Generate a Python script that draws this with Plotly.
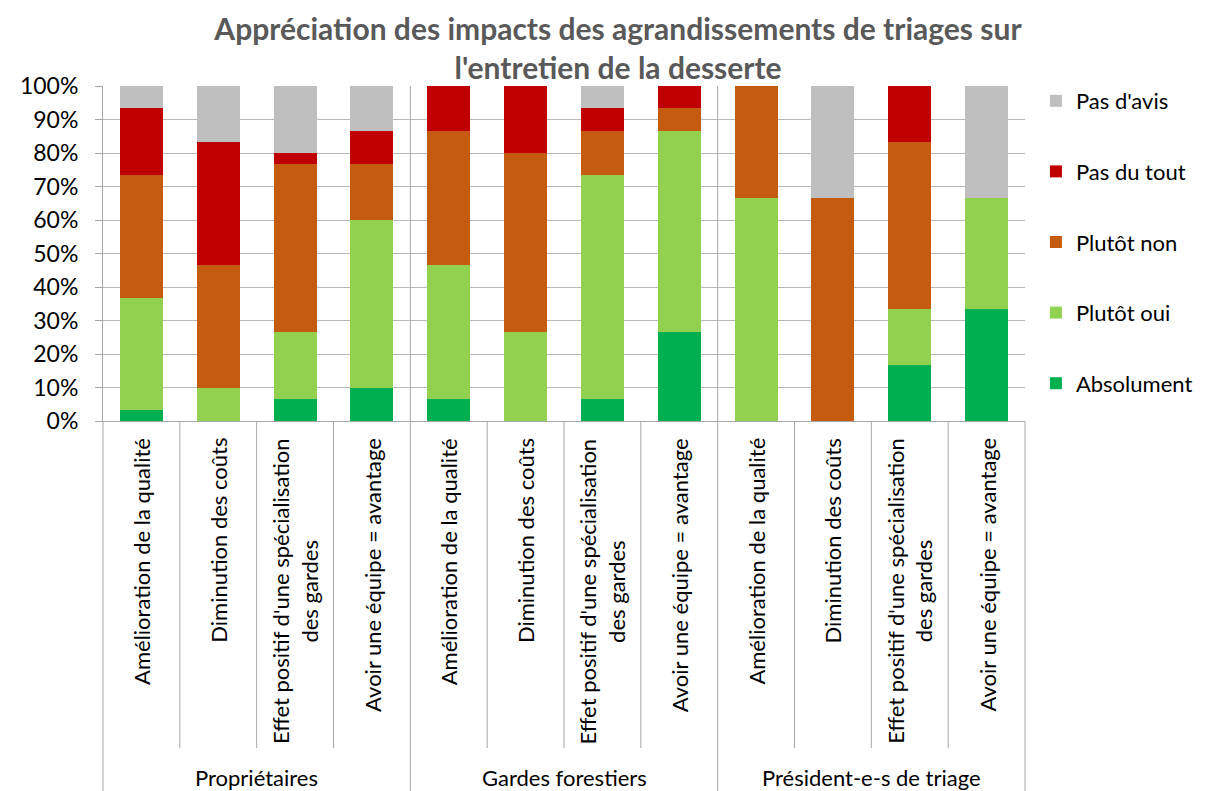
import plotly.graph_objects as go

# ---------------- data ----------------
groups = ["Propriétaires", "Gardes forestiers", "Président-e-s de triage"]
items = [
    "Amélioration de la qualité",
    "Diminution des coûts",
    "Effet positif d'une spécialisation<br>des gardes",
    "Avoir une équipe = avantage",
]
series_names = ["Absolument", "Plutôt oui", "Plutôt non", "Pas du tout", "Pas d'avis"]

# values in % (12 bars: 4 items x 3 groups)
absolument = [3.33, 0.0, 6.67, 10.0, 6.67, 0.0, 6.67, 26.67, 0.0, 0.0, 16.67, 33.33]
plutot_oui = [33.33, 10.0, 20.0, 50.0, 40.0, 26.67, 66.67, 60.0, 66.67, 0.0, 16.67, 33.33]
plutot_non = [36.67, 36.67, 50.0, 16.67, 40.0, 53.33, 13.33, 6.67, 33.33, 66.67, 50.0, 0.0]
pas_du_tout = [20.0, 36.67, 3.33, 10.0, 13.33, 20.0, 6.67, 6.67, 0.0, 0.0, 16.67, 0.0]
pas_d_avis = [6.67, 16.67, 20.0, 13.33, 0.0, 0.0, 6.67, 0.0, 0.0, 33.33, 0.0, 33.33]

colors = ["#00b050", "#92d050", "#c55a11", "#c00000", "#bfbfbf"]
values = [absolument, plutot_oui, plutot_non, pas_du_tout, pas_d_avis]

FONT = "Lato"
OFF = 8                      # page body margin
W, H = 1210 - OFF, 791 - OFF
PL, PR, PT, PB = 97, 1025, 86, 421   # plot area in window pixels
M_L, M_R, M_T, M_B = PL - OFF, (W + OFF) - PR, PT - OFF, (H + OFF) - PB
PH = PB - PT
PW = PR - PL

n_items = len(items)
n_bars = len(groups) * n_items
xpos = list(range(n_bars))

fig = go.Figure()
for i, (name, vals, col) in enumerate(zip(series_names, values, colors)):
    fig.add_trace(go.Bar(
        x=xpos, y=vals, name=name, legendgroup=name,
        legendrank=len(series_names) - i,
        marker=dict(color=col, line=dict(width=0)),
        hovertemplate="%{y:.1f}%<extra>" + name + "</extra>",
    ))

def py(pix):
    """window pixel row -> paper y"""
    return 1 - (pix - PT) / PH

shapes = []
line_col = "#a6a6a6"
for k in range(n_bars + 1):
    xp = k / n_bars
    if k % n_items == 0:
        y0 = 1 if 0 < k < n_bars else 0
        shapes.append(dict(type="line", xref="paper", yref="paper", x0=xp, x1=xp,
                           y0=y0, y1=py(800), line=dict(color=line_col, width=1)))
    else:
        shapes.append(dict(type="line", xref="paper", yref="paper", x0=xp, x1=xp,
                           y0=0, y1=py(748), line=dict(color=line_col, width=1)))

annotations = []
for gi, g in enumerate(groups):
    for ii, it in enumerate(items):
        annotations.append(dict(
            x=gi * n_items + ii, xref="x", y=py(436), yref="paper",
            text=it, textangle=-90, showarrow=False,
            xanchor="center", yanchor="top", align="center",
            font=dict(family=FONT, size=22, color="#000000"),
        ))
    annotations.append(dict(
        x=gi * n_items + (n_items - 1) / 2, xref="x", y=py(777), yref="paper",
        text=g, showarrow=False, xanchor="center", yanchor="middle",
        font=dict(family=FONT, size=22, color="#000000"),
    ))

fig.update_layout(
    width=W, height=H,
    margin=dict(l=M_L, r=M_R, t=M_T, b=M_B, pad=0),
    paper_bgcolor="white", plot_bgcolor="white",
    barmode="stack", bargap=0.44,
    font=dict(family=FONT, color="#000000"),
    title=dict(
        text="Appréciation des impacts des agrandissements de triages sur<br>l'entretien de la desserte",
        x=(618 - OFF) / W, xref="container", xanchor="center",
        y=1 - (39.5 - OFF) / H, yref="container", yanchor="middle",
        font=dict(family=FONT, size=30, color="#595959", weight="bold"),
    ),
    xaxis=dict(range=[-0.5, n_bars - 0.5], showticklabels=False, showgrid=False,
               zeroline=False, showline=True, linecolor=line_col, ticks=""),
    yaxis=dict(range=[0, 100], dtick=10, ticksuffix="%", showgrid=True,
               gridcolor="#b8b8b8", gridwidth=1, zeroline=False,
               showline=True, linecolor=line_col, ticks="outside", ticklen=7,
               tickcolor=line_col, ticklabelstandoff=12,
               tickfont=dict(family=FONT, size=23, color="#000000")),
    legend=dict(
        x=1 + (1036 - PR) / PW, xanchor="left",
        y=py(80), yanchor="top",
        traceorder="grouped", tracegroupgap=39,
        font=dict(family=FONT, size=22, color="#000000"),
        bgcolor="rgba(0,0,0,0)",
    ),
    shapes=shapes,
    annotations=annotations,
)

fig.write_html("out.html")
